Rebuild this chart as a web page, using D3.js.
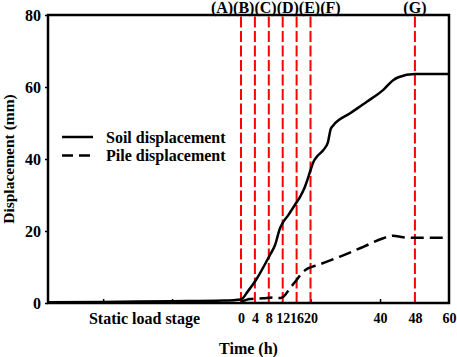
<!DOCTYPE html>
<html lang="en">
<head>
<meta charset="UTF-8">
<title>Soil and pile displacement</title>
<script src="https://d3js.org/d3.v7.min.js"></script>
<style>
  body { margin: 0; background: #fff; }
  text { font-family: "Liberation Serif", "Times New Roman", serif; font-weight: bold; font-size: 16px; fill: #000; }
  .axis .domain { display: none; }
  .axis line { stroke: #000; stroke-width: 1.5; }
  .x.axis text { font-size: 14px; }
</style>
</head>
<body>
<svg class="chart" width="457" height="357"></svg>
<script>
// time in hours, negative values = static load stage (drawn before t = 0)
const soilTime = [-56, -40, -20, -5, 0, 2, 4.3, 8.3, 9.8, 11.2, 11.9, 13.6, 15.8, 17.0, 18.4, 19.1, 19.9, 21.0, 21.8, 23.7, 25.0, 25.5, 25.8, 26.6, 31.4, 36.2, 40.75, 43.0, 44.2, 48, 60];
const soilDisp = [0.2, 0.3, 0.5, 0.7, 1.0, 3.3, 6.4, 13.3, 16.1, 20.7, 22.1, 24.4, 27.7, 29.5, 32.3, 34.2, 36.6, 39.5, 40.6, 42.5, 44.6, 47.0, 48.3, 49.4, 52.7, 55.9, 59.2, 61.9, 62.7, 63.6, 63.6];
const pileTime = [0, 2.6, 6.4, 9.3, 11.4, 12.2, 14.1, 16.0, 17.5, 18.9, 20.0, 22.2, 28.5, 35.2, 40.75, 43.0, 45.3, 48, 59.2];
const pileDisp = [0.3, 1.1, 1.3, 1.5, 1.4, 1.75, 4.1, 6.4, 8.25, 9.4, 9.9, 10.6, 12.9, 15.6, 18.0, 18.7, 18.25, 18.1, 18.1];

const stageTimes = [0, 4, 8, 12, 16, 20, 48];
const stageNames = ['(A)(B)(C)(D)(E)(F)', '(G)'];
const stageNameAt = [10, 48];
const timeTicks = [0, 4, 8, 12, 16, 20, 40, 48, 60];
const tickMarks = [-40, -20, 0, 20, 40];
const dispTicks = [0, 20, 40, 60, 80];

const svg = d3.select('svg.chart');
const width = +svg.attr('width');
const height = +svg.attr('height');
const margins = { top: 15, right: 8, bottom: 54, left: 48 };
const chartWidth = width - margins.left - margins.right;
const chartHeight = height - margins.top - margins.bottom;

const chart = svg.append('g')
  .attr('transform', `translate(${margins.left},${margins.top})`);

// static stage on the left, then the hour axis (48 h sits a bit wider in the original)
const x = d3.scaleLinear()
  .domain([-56, 0, 40, 48, 60])
  .range([0, chartWidth * 0.4813, chartWidth * 0.828, chartWidth * 0.915, chartWidth]);
const y = d3.scaleLinear().domain([0, 80]).range([chartHeight, 0]);

// y axis
chart.append('g')
  .attr('class', 'y axis')
  .call(d3.axisLeft(y).tickValues(dispTicks).tickSize(3).tickPadding(4));

// inner tick marks on the time axis
chart.append('g')
  .attr('class', 'axis')
  .attr('transform', `translate(0,${chartHeight})`)
  .call(d3.axisBottom(x).tickValues(tickMarks).tickSize(-4).tickFormat(''));

// hour labels
chart.append('g')
  .attr('class', 'x axis')
  .attr('transform', `translate(0,${chartHeight})`)
  .call(d3.axisBottom(x).tickValues(timeTicks).tickSize(0).tickPadding(10));

chart.append('text')
  .attr('x', (x(-56) + x(0)) / 2)
  .attr('y', chartHeight + 21)
  .attr('text-anchor', 'middle')
  .text('Static load stage');

svg.append('text')
  .attr('x', margins.left + chartWidth / 2)
  .attr('y', height - 3)
  .attr('text-anchor', 'middle')
  .text('Time (h)');

svg.append('text')
  .attr('transform', `translate(14,${margins.top + chartHeight / 2}) rotate(-90)`)
  .attr('text-anchor', 'middle')
  .style('font-size', '15.5px')
  .text('Displacement (mm)');

// stage lines
chart.selectAll('line.stage')
  .data(stageTimes)
  .join('line')
  .attr('class', 'stage')
  .attr('x1', d => x(d))
  .attr('x2', d => x(d))
  .attr('y1', chartHeight)
  .attr('y2', 0)
  .attr('stroke', '#ff0000')
  .attr('stroke-width', 2)
  .attr('stroke-dasharray', '11,3.5');

chart.selectAll('text.stage')
  .data(stageNames)
  .join('text')
  .attr('class', 'stage')
  .attr('x', (d, i) => x(stageNameAt[i]))
  .attr('y', -2.5)
  .attr('text-anchor', 'middle')
  .text(d => d);

// curves
const line = d3.line()
  .x(d => x(d[0]))
  .y(d => y(d[1]))
  .curve(d3.curveMonotoneX);

chart.append('path')
  .datum(soilTime.map((t, i) => [t, soilDisp[i]]))
  .attr('d', line)
  .attr('fill', 'none')
  .attr('stroke', '#000')
  .attr('stroke-width', 2.5);

chart.append('path')
  .datum(pileTime.map((t, i) => [t, pileDisp[i]]))
  .attr('d', line)
  .attr('fill', 'none')
  .attr('stroke', '#000')
  .attr('stroke-width', 2.5)
  .attr('stroke-dasharray', '13,6');

// frame
chart.append('rect')
  .attr('width', chartWidth)
  .attr('height', chartHeight)
  .attr('fill', 'none')
  .attr('stroke', '#000')
  .attr('stroke-width', 2.5);

// legend
const legend = chart.append('g').attr('transform', 'translate(14,122)');
const legendItems = [['Soil displacement', null], ['Pile displacement', '11,6']];
legendItems.forEach((d, i) => {
  const row = legend.append('g').attr('transform', `translate(0,${i * 18.5})`);
  row.append('line')
    .attr('x1', 0).attr('x2', i ? 29 : 31)
    .attr('stroke', '#000')
    .attr('stroke-width', 2.5)
    .attr('stroke-dasharray', d[1]);
  row.append('text')
    .attr('x', 44)
    .attr('dy', '0.35em')
    .text(d[0]);
});
</script>
</body>
</html>
